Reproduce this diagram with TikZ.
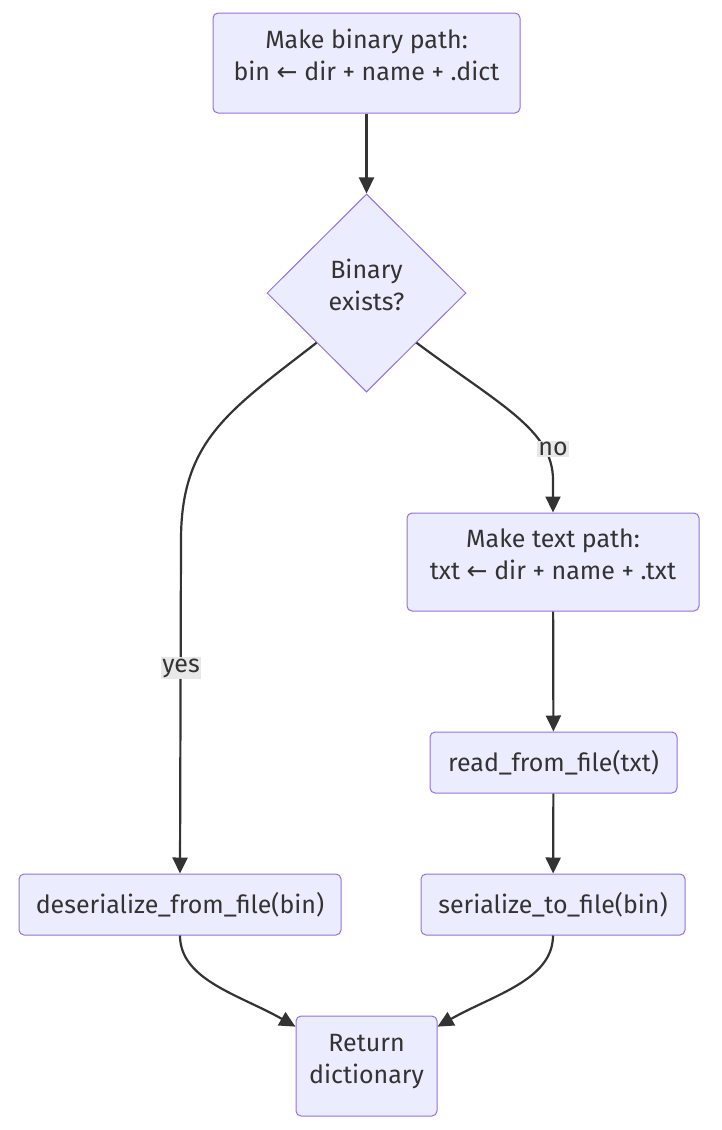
\documentclass[tikz,border=0pt]{standalone}
\usepackage{fontspec}
\setmainfont{Fira Sans}
\newfontfamily\arrowfont{DejaVu Sans}
\usetikzlibrary{shapes.geometric,arrows.meta}
\definecolor{nodefill}{HTML}{ECECFF}
\definecolor{nodeborder}{HTML}{9370DB}
\definecolor{edgecol}{HTML}{333333}
\definecolor{lblbg}{HTML}{E8E8E8}
\newcommand{\mlines}[1]{\raisebox{5pt}[\height][\depth]{\begin{tabular}{@{}c@{}}#1\end{tabular}}}
\tikzset{
  box/.style={draw=nodeborder, fill=nodefill, line width=1pt, rounded corners=5pt,
    inner sep=0pt, align=center, text=edgecol, font=\fontsize{25}{32}\selectfont},
  decision/.style={diamond, draw=nodeborder, fill=nodefill, line width=1pt, inner sep=0pt,
    aspect=1, align=center, text=edgecol, font=\fontsize{25}{32}\selectfont},
  edge/.style={draw=edgecol, line width=2.2pt, -{Triangle[length=16pt, width=15pt]}},
  lbl/.style={fill=lblbg, inner sep=1.5pt, text=edgecol, font=\fontsize{25}{28}\selectfont}
}
\begin{document}
\begin{tikzpicture}[x=1pt, y=-1pt]
\useasboundingbox (0,0) rectangle (721,1130);
\node[box, minimum width=307pt, minimum height=100pt] (A) at (366.5,63)
  {\mlines{Make binary path:\\bin {\arrowfont ←} dir + name + .dict}};
\node[decision, minimum width=199pt, minimum height=198pt] (Q) at (366.5,293)
  {\mlines{Binary\\exists?}};
\node[box, minimum width=292pt, minimum height=98pt] (B) at (553,562)
  {\mlines{Make text path:\\txt {\arrowfont ←} dir + name + .txt}};
\node[box, minimum width=247pt, minimum height=61pt] (C) at (553.5,762.5)
  {read\_from\_file(txt)};
\node[box, minimum width=264pt, minimum height=61pt] (D) at (553,904.5)
  {serialize\_to\_file(bin)};
\node[box, minimum width=322pt, minimum height=61pt] (E) at (180,904.5)
  {deserialize\_from\_file(bin)};
\node[box, minimum width=141pt, minimum height=100pt] (F) at (366.5,1066)
  {\mlines{Return\\dictionary}};

\draw[edge] (A) -- (Q);
\draw[edge] (Q.south west) .. controls (230,410) and (181,440) .. (181,540) -- (E.north);
\node[lbl] (yes) at (181,668) {yes};
\draw[edge] (Q.south east) .. controls (500,405) and (553,430) .. (553,480) -- (B.north);
\node[lbl] (no) at (553,449) {no};
\draw[edge] (B) -- (C);
\draw[edge] (C) -- (D);
\draw[edge] (E.south) .. controls (180,980) and (240,995) .. (F.151);
\draw[edge] (D.south) .. controls (553,980) and (493,995) .. (F.29);
\end{tikzpicture}
\end{document}
